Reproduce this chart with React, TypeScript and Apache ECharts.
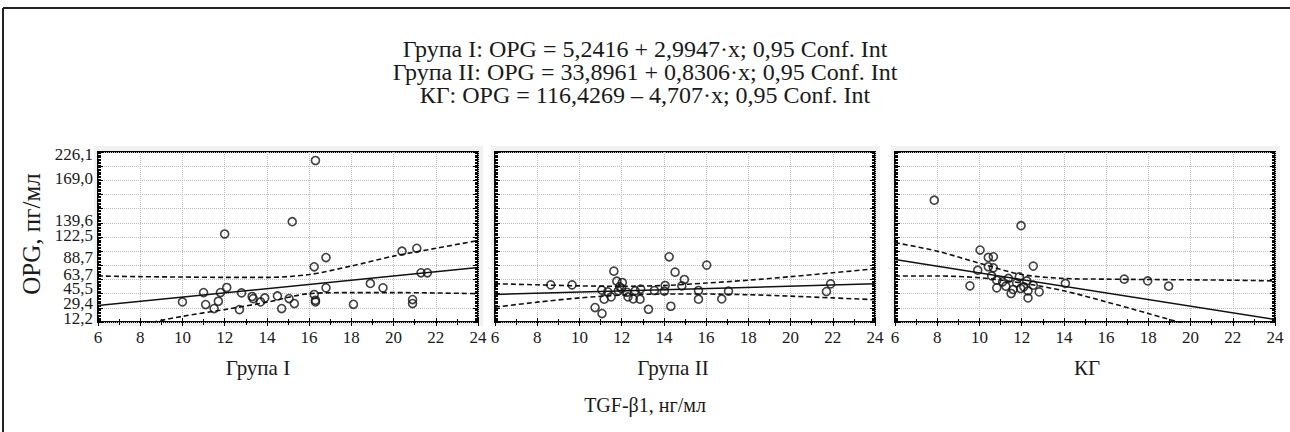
import React, { useEffect, useRef } from "react";
import * as echarts from "echarts";

const FONT = "'Liberation Serif', 'Times New Roman', serif";

const titleLines = [
  "Група I: OPG = 5,2416 + 2,9947·x; 0,95 Conf. Int",
  "Група II: OPG = 33,8961 + 0,8306·x; 0,95 Conf. Int",
  "КГ: OPG = 116,4269 – 4,707·x; 0,95 Conf. Int",
];
const groupNames = ["Група I", "Група II", "КГ"];
const xTitle = "TGF-β1, нг/мл";
const yTitle = "OPG, пг/мл";

// y tick labels and where they sit on the axis
const yLabelText = ["12,2", "29,4", "45,5", "63,7", "88,7", "122,5", "139,6", "169,0", "226,1"];
const yLabelAt = [4.5, 26, 47.3, 67, 90.6, 122, 143.5, 203, 236];

// Група I
const g1X = [12.0, 16.3, 15.2, 20.4, 21.1, 16.8, 16.24, 21.3, 21.6, 18.9, 19.5, 16.8, 12.1, 11.0, 11.8, 12.8, 13.3, 13.35, 13.7, 13.9, 14.5, 15.05, 15.3, 14.7, 16.24, 16.3, 16.3, 10.0, 11.1, 11.5, 11.7, 12.7, 18.1, 20.9, 20.9];
const g1Y = [124.2, 228, 141.6, 100, 104, 91, 77.9, 69.4, 69.4, 54.4, 48.2, 48.2, 48.7, 41.6, 41.6, 41.1, 36, 33, 28.3, 34, 36.8, 33.1, 26, 19, 38.8, 30.7, 28.3, 28.3, 24.6, 19, 29.3, 17.5, 25, 31.7, 26];

// Група II
const g2X = [14.25, 16.03, 14.53, 11.63, 14.97, 11.77, 12.03, 8.64, 9.65, 21.9, 21.7, 14.06, 14.85, 11.06, 11.34, 11.84, 12.24, 12.64, 13.55, 14.02, 15.64, 17.06, 11.5, 12.3, 12.55, 12.87, 11.17, 15.64, 16.74, 10.74, 11.07, 13.27, 14.33, 12.0, 12.9, 11.9];
const g2Y = [92, 80.3, 70.4, 71.8, 60, 57.6, 55.8, 52.4, 52.4, 53.8, 43, 51.5, 51, 45, 42.5, 44, 42, 44, 44.5, 43.5, 44.5, 43.5, 35.4, 35.4, 32.6, 32.2, 32.2, 32.2, 32.6, 20.4, 11.9, 18, 22.2, 47, 46.5, 50];

// КГ
const kgX = [7.86, 11.97, 10.03, 10.42, 10.66, 12.55, 9.92, 10.42, 10.66, 10.58, 10.82, 11.37, 11.89, 12.24, 11.76, 11.25, 10.82, 11.6, 11.5, 11.95, 12.1, 12.3, 12.83, 12.3, 9.55, 14.07, 16.86, 17.97, 18.96, 12.55, 11.1];
const kgY = [172, 136, 101.6, 91.2, 92, 78.9, 73.2, 78, 76.5, 65, 59, 61.5, 63.7, 58, 55.2, 50.6, 48.2, 45.9, 40.2, 47.3, 49.6, 43.9, 42.5, 34, 51, 54.4, 60.5, 58, 50.6, 52, 56.7];

// regression lines (endpoints at x = 6 and x = 24)
const fitX = [6, 24];
const g1Fit = [23.21, 77.11];
const g2Fit = [38.88, 53.83];
const kgFit = [88.18, 3.46];

// 0,95 confidence bands
const bandX = [6, 8, 10, 12, 14, 16, 18, 20, 22, 24];
const g1Upper = [65, 64, 63.5, 63, 63, 67, 79, 93, 104, 115];
const g1Lower = [-19, -4, 8, 17.5, 28, 40, 41.5, 41.5, 41, 40];
const g2Upper = [54, 52.5, 51, 50.5, 51.5, 55, 59, 64, 69.5, 75];
const g2Lower = [21, 28, 34, 38, 39.5, 39.5, 38.5, 36.5, 34, 31.5];
const kgUpper = [112, 100, 83, 67, 61.5, 60.5, 60, 59.5, 59, 58];
const kgLower = [65, 65, 62.5, 55, 44, 28.5, 12, -5, -22, -40];

const zip = (xs: number[], ys: number[]) => xs.map((x, i) => [x, ys[i]]);

const panels = [
  { pts: zip(g1X, g1Y), fit: zip(fitX, g1Fit), up: zip(bandX, g1Upper), lo: zip(bandX, g1Lower) },
  { pts: zip(g2X, g2Y), fit: zip(fitX, g2Fit), up: zip(bandX, g2Upper), lo: zip(bandX, g2Lower) },
  { pts: zip(kgX, kgY), fit: zip(fitX, kgFit), up: zip(bandX, kgUpper), lo: zip(bandX, kgLower) },
];

const gridLefts = [98, 495, 895];
const GRID_TOP = 152;
const GRID_W = 380;
const GRID_H = 170;
const groupLabelX = [258, 673, 1087];

const labelFor = (v: number) => {
  const k = yLabelAt.findIndex((a) => Math.abs(a - v) < 1e-6);
  return k >= 0 ? yLabelText[k] : "";
};

export default function App() {
  const ref = useRef<HTMLDivElement>(null);
  useEffect(() => {
    if (!ref.current) return;
    const chart = echarts.init(ref.current, null, { renderer: "svg" });
    const grid: any[] = [];
    const xAxis: any[] = [];
    const yAxis: any[] = [];
    const series: any[] = [];
    const graphic: any[] = [
      { type: "line", shape: { x1: 3, y1: 8, x2: 1290, y2: 8 }, style: { stroke: "#222", lineWidth: 2 } },
      { type: "line", shape: { x1: 3, y1: 8, x2: 3, y2: 432 }, style: { stroke: "#222", lineWidth: 2 } },
      {
        type: "text", x: 31, y: 234, rotation: Math.PI / 2,
        style: { text: yTitle, font: `25px ${FONT}`, fill: "#1a1a1a", align: "center", verticalAlign: "middle" },
      },
      {
        type: "text", x: 645, y: 405,
        style: { text: xTitle, font: `20px ${FONT}`, fill: "#1a1a1a", align: "center", verticalAlign: "middle" },
      },
    ];
    const tickStyle = { color: "#000", width: 1 };
    const labelStyle = {
      show: true, hideOverlap: false, showMinLabel: true, showMaxLabel: true,
      margin: 5, fontFamily: FONT, fontSize: 17, lineHeight: 12,
      color: "#1a1a1a", formatter: labelFor,
    };
    const yBaseOf = (i: number) => ({
      type: "value", gridIndex: i, min: 0, max: 240, interval: 20,
      axisLine: { show: false },
      axisTick: { show: true, inside: true, length: 5, lineStyle: tickStyle },
      minorTick: { show: true, splitNumber: 10, length: 3, lineStyle: tickStyle },
    });
    const evenAt = yLabelAt.filter((_, k) => k % 2 === 0);
    const oddAt = yLabelAt.filter((_, k) => k % 2 === 1);
    panels.forEach((p, i) => {
      const left = gridLefts[i];
      grid.push({
        left, top: GRID_TOP, width: GRID_W, height: GRID_H,
        show: true, backgroundColor: "#fff", borderColor: "#000", borderWidth: 2,
      });
      graphic.push({
        type: "rect", z: -10, silent: true,
        shape: { x: left - 4, y: GRID_TOP - 6, width: GRID_W + 9, height: GRID_H + 10 },
        style: { fill: "#f1f1f1" },
      });
      graphic.push({
        type: "text", x: groupLabelX[i], y: 368,
        style: { text: groupNames[i], font: `21px ${FONT}`, fill: "#1a1a1a", align: "center", verticalAlign: "middle" },
      });
      const xBase = {
        type: "value", gridIndex: i, min: 6, max: 24, interval: 2,
        axisLine: { show: false },
        axisTick: { show: true, inside: true, length: 4, lineStyle: tickStyle },
        minorTick: { show: true, splitNumber: 2, length: 3, lineStyle: tickStyle },
      };
      xAxis.push({
        ...xBase, position: "bottom",
        axisLabel: { show: true, margin: 7, fontFamily: FONT, fontSize: 17, color: "#1a1a1a" },
        splitLine: { show: true, lineStyle: { color: "#bdbdbd", type: "dotted", width: 1 } },
      });
      xAxis.push({ ...xBase, position: "top", axisLabel: { show: false }, splitLine: { show: false } });
      yAxis.push({
        ...yBaseOf(i), position: "left",
        axisLabel: i === 0 ? { ...labelStyle, customValues: evenAt } : { show: false },
        splitLine: { show: true, lineStyle: { color: "#bdbdbd", type: "dotted", width: 1 } },
      });
      yAxis.push({ ...yBaseOf(i), position: "right", axisLabel: { show: false }, splitLine: { show: false } });
      const xi = i * 2;
      const yi = i * 2;
      series.push({
        type: "line", xAxisIndex: xi, yAxisIndex: yi, data: p.up, smooth: 0.3, showSymbol: false,
        lineStyle: { color: "#111", width: 1.6, type: [5, 3] }, z: 3,
      });
      series.push({
        type: "line", xAxisIndex: xi, yAxisIndex: yi, data: p.lo, smooth: 0.3, showSymbol: false,
        lineStyle: { color: "#111", width: 1.6, type: [5, 3] }, z: 3,
      });
      series.push({
        type: "line", xAxisIndex: xi, yAxisIndex: yi, data: p.fit, showSymbol: false,
        lineStyle: { color: "#111", width: 1.5 }, z: 4,
      });
      series.push({
        type: "scatter", xAxisIndex: xi, yAxisIndex: yi, data: p.pts, symbol: "circle", symbolSize: 8,
        itemStyle: { color: "rgba(255,255,255,0)", borderColor: "#111", borderWidth: 1.6 }, z: 5,
      });
    });
    // second left axis on the first panel carrying the other half of the labels
    yAxis.push({
      type: "value", gridIndex: 0, min: 0, max: 240, position: "left",
      axisLine: { show: false }, axisTick: { show: false }, splitLine: { show: false },
      axisLabel: { ...labelStyle, customValues: oddAt },
    });
    chart.setOption({
      animation: false,
      backgroundColor: "#fff",
      title: {
        text: titleLines.join("\n"), left: "center", top: 32,
        textStyle: { fontFamily: FONT, fontSize: 24, fontWeight: "normal", color: "#1a1a1a", lineHeight: 23 },
      },
      grid, xAxis, yAxis, series, graphic,
    });
    return () => chart.dispose();
  }, []);
  return (
    <div
      ref={ref}
      style={{ position: "absolute", left: 0, top: 0, width: 1290, height: 432, background: "#fff" }}
    />
  );
}
